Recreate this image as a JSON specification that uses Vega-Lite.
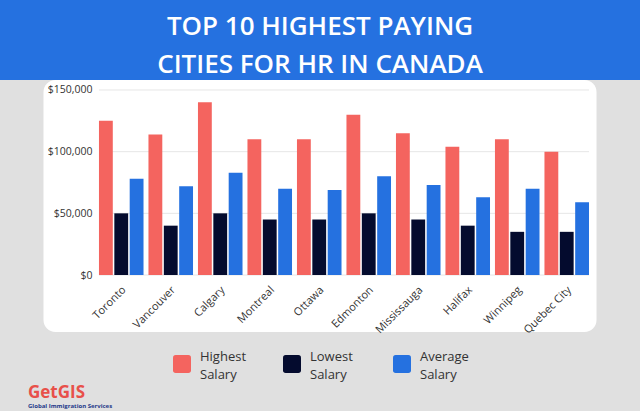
{
  "$schema": "https://vega.github.io/schema/vega-lite/v6.json",
  "background": "#E0E0E0",
  "padding": {"left": 0, "top": 0, "right": 0, "bottom": 6},
  "spacing": 0,
  "center": true,
  "config": {
    "style": {"guide-label": {"lineHeight": 18}}
  },
  "title": {
    "text": "GetGIS",
    "subtitle": "Global Immigration Services",
    "orient": "bottom",
    "anchor": "start",
    "dx": 28,
    "offset": 3,
    "font": "Open Sans",
    "fontSize": 17,
    "fontWeight": 700,
    "color": "#E8504A",
    "subtitleFont": "Open Sans",
    "subtitleFontSize": 6,
    "subtitleFontWeight": 700,
    "subtitleColor": "#1F3A8A",
    "subtitlePadding": 1
  },
  "datasets": {
    "salaries": [
      {"city": "Toronto", "type": "Highest Salary", "value": 125000},
      {"city": "Toronto", "type": "Lowest Salary", "value": 50000},
      {"city": "Toronto", "type": "Average Salary", "value": 78000},
      {"city": "Vancouver", "type": "Highest Salary", "value": 114000},
      {"city": "Vancouver", "type": "Lowest Salary", "value": 40000},
      {"city": "Vancouver", "type": "Average Salary", "value": 72000},
      {"city": "Calgary", "type": "Highest Salary", "value": 140000},
      {"city": "Calgary", "type": "Lowest Salary", "value": 50000},
      {"city": "Calgary", "type": "Average Salary", "value": 83000},
      {"city": "Montreal", "type": "Highest Salary", "value": 110000},
      {"city": "Montreal", "type": "Lowest Salary", "value": 45000},
      {"city": "Montreal", "type": "Average Salary", "value": 70000},
      {"city": "Ottawa", "type": "Highest Salary", "value": 110000},
      {"city": "Ottawa", "type": "Lowest Salary", "value": 45000},
      {"city": "Ottawa", "type": "Average Salary", "value": 69000},
      {"city": "Edmonton", "type": "Highest Salary", "value": 130000},
      {"city": "Edmonton", "type": "Lowest Salary", "value": 50000},
      {"city": "Edmonton", "type": "Average Salary", "value": 80000},
      {"city": "Mississauga", "type": "Highest Salary", "value": 115000},
      {"city": "Mississauga", "type": "Lowest Salary", "value": 45000},
      {"city": "Mississauga", "type": "Average Salary", "value": 73000},
      {"city": "Halifax", "type": "Highest Salary", "value": 104000},
      {"city": "Halifax", "type": "Lowest Salary", "value": 40000},
      {"city": "Halifax", "type": "Average Salary", "value": 63000},
      {"city": "Winnipeg", "type": "Highest Salary", "value": 110000},
      {"city": "Winnipeg", "type": "Lowest Salary", "value": 35000},
      {"city": "Winnipeg", "type": "Average Salary", "value": 70000},
      {"city": "Quebec City", "type": "Highest Salary", "value": 100000},
      {"city": "Quebec City", "type": "Lowest Salary", "value": 35000},
      {"city": "Quebec City", "type": "Average Salary", "value": 59000}
    ],
    "grid": [{"v": 0}, {"v": 50000}, {"v": 100000}, {"v": 150000}],
    "titleLines": [
      {"line": 1, "text": "TOP 10 HIGHEST PAYING"},
      {"line": 2, "text": "CITIES FOR HR IN CANADA"}
    ]
  },
  "vconcat": [
    {
      "width": 640,
      "height": 80,
      "view": {"fill": "#2571E0", "stroke": null},
      "data": {"name": "titleLines"},
      "mark": {"type": "text", "font": "Open Sans", "fontSize": 26, "fontWeight": 600, "color": "#FFFFFF", "baseline": "alphabetic", "align": "center"},
      "encoding": {
        "y": {"field": "line", "type": "ordinal", "axis": null, "scale": {"padding": 0.544, "align": 0.839}},
        "text": {"field": "text"}
      }
    },
    {
      "width": 553,
      "height": 252,
      "view": {"fill": "#FFFFFF", "stroke": null, "cornerRadius": 12},
      "layer": [
        {
          "data": {"name": "grid"},
          "mark": {"type": "rule", "color": "#E6E6E6", "strokeWidth": 1},
          "encoding": {
            "x": {"datum": "Toronto", "type": "nominal", "bandPosition": 0},
            "x2": {"datum": "Quebec City", "bandPosition": 1},
            "y": {"field": "v", "type": "quantitative"}
          }
        },
        {
          "data": {"name": "salaries"},
          "mark": {"type": "bar"},
          "encoding": {
            "x": {
              "field": "city",
              "type": "nominal",
              "scale": {
                "domain": ["Toronto", "Vancouver", "Calgary", "Montreal", "Ottawa", "Edmonton", "Mississauga", "Halifax", "Winnipeg", "Quebec City"],
                "paddingInner": 0.1,
                "paddingOuter": 0.636,
                "align": 0.881
              },
              "axis": {
                "title": null,
                "orient": "bottom",
                "offset": -57,
                "labelAngle": -45,
                "labelFont": "Open Sans",
                "labelFontSize": 11,
                "labelColor": "#333333",
                "labelPadding": 13,
                "labelOffset": 3,
                "ticks": false,
                "domain": false,
                "grid": false
              }
            },
            "xOffset": {
              "field": "type",
              "type": "nominal",
              "scale": {"domain": ["Highest Salary", "Lowest Salary", "Average Salary"], "paddingInner": 0.1, "paddingOuter": 0}
            },
            "y": {
              "field": "value",
              "type": "quantitative",
              "scale": {"domain": [-46216, 158108], "nice": false, "zero": false},
              "axis": {
                "title": null,
                "offset": -52.5,
                "values": [0, 50000, 100000, 150000],
                "format": "$,.0f",
                "labelFont": "Open Sans",
                "labelFontSize": 10.5,
                "labelColor": "#333333",
                "labelPadding": 4,
                "ticks": false,
                "domain": false,
                "grid": false
              }
            },
            "color": {
              "field": "type",
              "type": "nominal",
              "scale": {
                "domain": ["Highest Salary", "Lowest Salary", "Average Salary"],
                "range": ["#F4645F", "#040B2E", "#2571E0"]
              },
              "legend": {
                "title": null,
                "orient": "none",
                "legendX": 173,
                "legendY": 355,
                "direction": "horizontal",
                "columns": 3,
                "gridAlign": "all",
                "columnPadding": 34,
                "symbolType": "M-0.7,-1H0.7Q1,-1 1,-0.7V0.7Q1,1 0.7,1H-0.7Q-1,1 -1,0.7V-0.7Q-1,-1 -0.7,-1Z",
                "symbolSize": 324,
                "symbolStrokeWidth": 0,
                "symbolOpacity": 1,
                "labelExpr": "split(datum.label, ' ')",
                "labelFont": "Open Sans",
                "labelFontSize": 13,
                "labelColor": "#333333",
                "labelOffset": 9,
                "labelBaseline": "bottom"
              }
            }
          }
        }
      ]
    }
  ]
}
